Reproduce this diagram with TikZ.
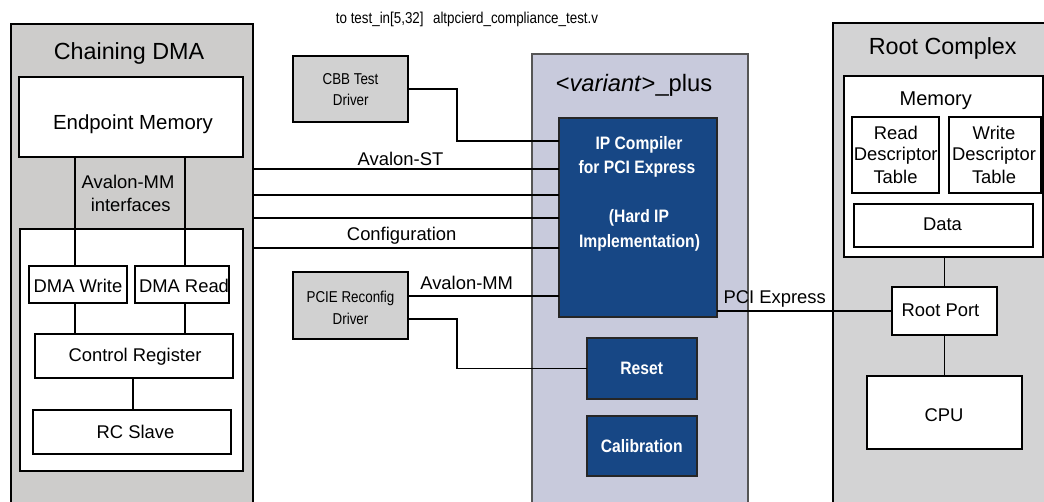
\documentclass[tikz,border=0pt]{standalone}
\usepackage{fontspec}
\setmainfont{Liberation Sans}
\newfontfamily\narrowfont[FakeStretch=0.85]{Liberation Sans}
\newfontfamily\condfont[FakeStretch=0.87]{Liberation Sans}
\definecolor{dmagray}{HTML}{CDCCCB}
\definecolor{rcgray}{HTML}{D3D3D4}
\definecolor{drvgray}{HTML}{D1D1D1}
\definecolor{lav}{HTML}{C8CADC}
\definecolor{vborder}{HTML}{555555}
\definecolor{ipblue}{HTML}{174785}
\newcommand\bx[6]{%
  \pgfmathsetmacro\bxcx{(#2+#4)/2}%
  \pgfmathsetmacro\bxcy{(#3+#5)/2}%
  \pgfmathsetmacro\bxw{(#4-#2)*0.75}%
  \pgfmathsetmacro\bxh{(#5-#3)*0.75}%
  \node[#6, minimum width=\bxw pt, minimum height=\bxh pt] (#1) at (\bxcx,\bxcy) {};}
\begin{document}
\begin{tikzpicture}[x=0.75pt,y=-0.75pt,
  lbl/.style={anchor=base, inner sep=0, outer sep=0, font=\fontsize{13.8}{16}\selectfont},
  ttl/.style={lbl, font=\fontsize{17.5}{20}\selectfont},
  nar/.style={lbl, font=\narrowfont\fontsize{11.8}{13}\selectfont},
  wht/.style={lbl, text=white, font=\condfont\bfseries\fontsize{13.5}{15}\selectfont},
  bx/.style={draw, line width=1pt, fill=white, inner sep=0, outer sep=0},
  outer/.style={draw, line width=1.2pt, inner sep=0, outer sep=0},
  blue/.style={draw=black!85, line width=0.8pt, fill=ipblue, inner sep=0, outer sep=0},
  wire/.style={line width=1.05pt},
  thinwire/.style={line width=0.8pt}
]
\path[use as bounding box, clip] (0,0) rectangle (1044,502);
\fill[white] (0,0) rectangle (1044,502);

% ---------- Chaining DMA ----------
\bx{cdma}{11}{24}{253}{530}{outer, fill=dmagray}
\bx{epm}{19}{77}{243}{157}{bx}
\bx{inner}{20}{229}{243}{471}{bx}
\bx{dmaw}{29}{266}{127}{303}{bx}
\bx{dmar}{135}{266}{229}{303}{bx}
\bx{ctrl}{35}{334}{233}{378}{bx, line width=0.8pt}
\bx{rcs}{33}{410}{231}{454}{bx, line width=0.8pt}

\draw[wire] (epm.south -| 75,0) -- (dmaw.north -| 75,0);
\draw[wire] (dmaw.south -| 75,0) -- (ctrl.north -| 75,0);
\draw[wire] (epm.south -| 185,0) -- (dmar.north -| 185,0);
\draw[wire] (dmar.south -| 185,0) -- (ctrl.north -| 185,0);
\draw[wire] (ctrl.south -| 133,0) -- (rcs.north -| 133,0);

\node[ttl] (tcdma) at (129,59.5) {Chaining DMA};
\node[lbl, font=\fontsize{15.3}{18}\selectfont] (tepm) at (133,129.3) {Endpoint Memory};
\node[lbl] (tav1) at (128,189) {Avalon-MM};
\node[lbl] (tav2) at (130.7,211.7) {interfaces};
\node[lbl] (tdw) at (78,292.3) {DMA Write};
\node[lbl] (tdr) at (184,292.3) {DMA Read};
\node[lbl] (tctrl) at (135,361.7) {Control Register};
\node[lbl] (trcs) at (135.5,438.3) {RC Slave};

% ---------- variant box ----------
\bx{var}{532}{54}{748}{530}{draw=vborder, fill=lav, line width=0.9pt, inner sep=0, outer sep=0}
\bx{ipc}{559}{118}{717}{317}{blue}
\bx{reset}{587}{338}{697}{399}{blue}
\bx{calib}{587}{416}{697}{476}{blue}
\node[ttl, font=\fontsize{17.8}{20}\selectfont] (tvar) at (634,91.7) {\textless\textit{variant}\textgreater\_plus};
\node[wht] (tip1) at (639,149.3) {IP Compiler};
\node[wht] (tip2) at (637,174) {for PCI Express};
\node[wht] (tip3) at (639,222.7) {(Hard IP};
\node[wht] (tip4) at (639.5,247.7) {Implementation)};
\node[wht] (treset) at (641.7,374) {Reset};
\node[wht] (tcalib) at (641.7,452.3) {Calibration};

% ---------- drivers ----------
\bx{cbb}{293}{56}{408}{122}{bx, fill=drvgray}
\bx{pcie}{293}{272}{408}{339}{bx, fill=drvgray}
\node[nar] (tcbb1) at (350.5,85) {CBB Test};
\node[nar] (tcbb2) at (350.8,106) {Driver};
\node[nar] (tpcie1) at (350.5,302.3) {PCIE Reconfig};
\node[nar] (tpcie2) at (350.5,324) {Driver};
\node[nar] (ttop) at (467,23.5) {to test\_in[5,32]\hspace{0.6em}altpcierd\_compliance\_test.v};

% ---------- connectors to IP compiler ----------
\draw[thinwire] (cbb.east) -- (457,89) |- (ipc.west |- 0,141);
\draw[wire] (cdma.east |- 0,169) -- (ipc.west |- 0,169);
\draw[wire] (cdma.east |- 0,195) -- (ipc.west |- 0,195);
\draw[wire] (cdma.east |- 0,218) -- (ipc.west |- 0,218);
\draw[wire] (cdma.east |- 0,248) -- (ipc.west |- 0,248);
\draw[wire] (pcie.east |- 0,296) -- (ipc.west |- 0,296);
\draw[thinwire] (pcie.east |- 0,319) -- (457,319) |- (reset.west);
\node[lbl] (tavst) at (400.5,166) {Avalon-ST};
\node[lbl] (tconf) at (401.7,240.7) {Configuration};
\node[lbl] (tavmm) at (466.7,289) {Avalon-MM};

% ---------- Root Complex ----------
\bx{rc}{833}{23}{1070}{530}{outer, fill=rcgray}
\bx{mem}{844}{76}{1043}{257}{bx}
\bx{rdt}{852}{117}{939}{193}{bx}
\bx{wdt}{949}{117}{1041}{193}{bx}
\bx{data}{854}{204}{1033}{247}{bx}
\bx{rport}{892}{287}{997}{335}{bx}
\bx{cpu}{867}{376}{1022}{449}{bx}
\draw[wire] (mem.south -| rport.north) -- (rport.north);
\draw[wire] (rport.south) -- (cpu.north);
\draw[wire] (ipc.east |- rport.west) -- (rport.west);

\node[ttl] (trc) at (942.7,54.3) {Root Complex};
\node[lbl, font=\fontsize{15}{18}\selectfont] (tmem) at (935.7,106) {Memory};
\node[lbl] (trd1) at (895.8,139.3) {Read};
\node[lbl] (trd2) at (895.7,161) {Descriptor};
\node[lbl] (trd3) at (895.5,183.3) {Table};
\node[lbl] (twr1) at (994,139.3) {Write};
\node[lbl] (twr2) at (994,161) {Descriptor};
\node[lbl] (twr3) at (994,183.3) {Table};
\node[lbl] (tdata) at (942.5,230.7) {Data};
\node[lbl] (tpcix) at (774.7,303.3) {PCI Express};
\node[lbl] (trport) at (940.5,316) {Root Port};
\node[lbl] (tcpu) at (944,421.7) {CPU};
\end{tikzpicture}
\end{document}
